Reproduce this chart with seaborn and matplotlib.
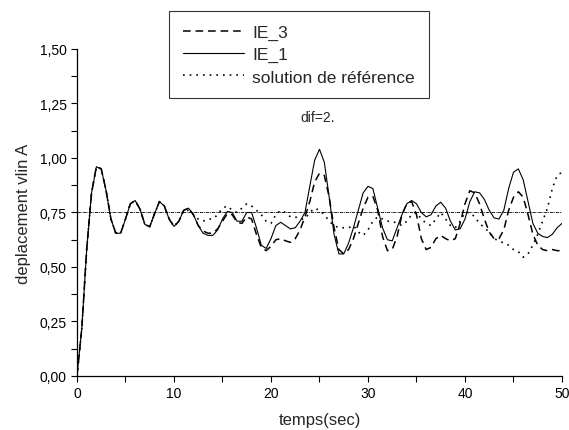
import numpy as np
import pandas as pd
import seaborn as sns
import matplotlib.pyplot as plt
from matplotlib.ticker import MultipleLocator, FuncFormatter

# time axis (s), one value every 0.5 s
temps = np.arange(0, 50.5, 0.5)

# part shared by all three curves, t = 0 .. 11
common = [0.00, 0.22, 0.58, 0.84, 0.96, 0.95, 0.85, 0.72, 0.655, 0.655,
          0.72, 0.79, 0.805, 0.765, 0.695, 0.685, 0.745, 0.80, 0.78, 0.72,
          0.686, 0.71, 0.76]

# t = 11.5 .. 50
ie1_tail = [0.77, 0.74, 0.69, 0.655, 0.645, 0.645, 0.67, 0.72, 0.755, 0.75,
            0.71, 0.71, 0.75, 0.75, 0.68, 0.60, 0.585, 0.63, 0.69, 0.705,
            0.69, 0.675, 0.68, 0.71, 0.75, 0.87, 0.99, 1.04, 0.98, 0.82,
            0.65, 0.56, 0.56, 0.61, 0.68, 0.76, 0.84, 0.87, 0.86, 0.77,
            0.68, 0.625, 0.62, 0.68, 0.74, 0.79, 0.805, 0.79, 0.75, 0.73,
            0.74, 0.78, 0.797, 0.77, 0.71, 0.67, 0.675, 0.72, 0.80, 0.845,
            0.84, 0.81, 0.76, 0.725, 0.72, 0.76, 0.86, 0.935, 0.95, 0.90,
            0.80, 0.70, 0.655, 0.64, 0.635, 0.65, 0.68, 0.70]

ie3_tail = [0.77, 0.74, 0.69, 0.665, 0.655, 0.655, 0.675, 0.71, 0.745, 0.74,
            0.705, 0.70, 0.73, 0.72, 0.65, 0.59, 0.575, 0.595, 0.625, 0.63,
            0.62, 0.613, 0.63, 0.67, 0.73, 0.80, 0.89, 0.93, 0.92, 0.82,
            0.68, 0.58, 0.56, 0.58, 0.63, 0.70, 0.77, 0.82, 0.825, 0.76,
            0.64, 0.575, 0.58, 0.64, 0.74, 0.79, 0.80, 0.74, 0.63, 0.58,
            0.59, 0.63, 0.645, 0.63, 0.62, 0.63, 0.70, 0.79, 0.85, 0.84,
            0.79, 0.72, 0.66, 0.63, 0.63, 0.67, 0.76, 0.82, 0.845, 0.82,
            0.74, 0.65, 0.60, 0.58, 0.575, 0.58, 0.575, 0.574]

ref_tail = [0.76, 0.74, 0.72, 0.71, 0.72, 0.72, 0.74, 0.77, 0.78, 0.76,
            0.75, 0.77, 0.79, 0.78, 0.76, 0.74, 0.71, 0.70, 0.74, 0.76,
            0.75, 0.73, 0.73, 0.72, 0.72, 0.75, 0.77, 0.76, 0.74, 0.71,
            0.69, 0.68, 0.68, 0.68, 0.69, 0.66, 0.645, 0.67, 0.71, 0.73,
            0.72, 0.71, 0.71, 0.70, 0.69, 0.71, 0.74, 0.75, 0.72, 0.70,
            0.69, 0.72, 0.75, 0.72, 0.69, 0.68, 0.71, 0.75, 0.75, 0.73,
            0.70, 0.68, 0.66, 0.63, 0.62, 0.61, 0.60, 0.58, 0.57, 0.545,
            0.56, 0.60, 0.65, 0.71, 0.77, 0.86, 0.92, 0.935]

consigne = 0.75

df = pd.DataFrame({"t": temps,
                   "IE_3": common + ie3_tail,
                   "IE_1": common + ie1_tail,
                   "ref": common + ref_tail})

sns.set_theme(style="ticks")
plt.rcParams['font.family'] = ['Liberation Sans', 'DejaVu Sans']

fig = plt.figure(figsize=(5.69, 4.31), dpi=100)
ax = fig.add_axes([0.1353, 0.1253, 0.8524, 0.7587])

ax.axhline(consigne, color="black", lw=0.6, ls=(0, (4, 1, 1, 1)))
sns.lineplot(data=df, x="t", y="IE_3", ax=ax, color="black", lw=1.1,
             ls=(0, (5, 3.2)), label="IE_3")
sns.lineplot(data=df, x="t", y="IE_1", ax=ax, color="black", lw=0.8,
             label="IE_1")
sns.lineplot(data=df, x="t", y="ref", ax=ax, color="black", lw=1.2,
             ls=(0, (1, 3)), label="solution de référence")

ax.set_xlim(0, 50)
ax.set_ylim(0, 1.5)
ax.xaxis.set_major_locator(MultipleLocator(10))
ax.xaxis.set_minor_locator(MultipleLocator(5))
ax.yaxis.set_major_locator(MultipleLocator(0.25))
ax.yaxis.set_minor_locator(MultipleLocator(0.125))
ax.yaxis.set_major_formatter(FuncFormatter(lambda v, p: f"{v:.2f}".replace(".", ",")))
ax.tick_params(which="both", direction="out", length=4, width=0.8,
               colors="black", labelsize=10)
sns.despine(ax=ax)
for s in ["left", "bottom"]:
    ax.spines[s].set_color("black")
    ax.spines[s].set_linewidth(0.9)

ax.set_xlabel("temps(sec)", fontsize=12, labelpad=8)
ax.set_ylabel("deplacement vlin A", fontsize=12, labelpad=6)
ax.text(23, 1.19, "dif=2.", fontsize=10, va="center")

leg = ax.legend(loc="upper left", bbox_to_anchor=(169 / 569, 1 - 12 / 431),
                bbox_transform=fig.transFigure, fontsize=12.5, frameon=True,
                fancybox=False, handlelength=3.5, borderpad=0.8,
                labelspacing=0.4, handletextpad=0.5, borderaxespad=0)
leg.get_frame().set_edgecolor("black")
leg.get_frame().set_linewidth(0.8)

fig.savefig("out.png", dpi=100)
